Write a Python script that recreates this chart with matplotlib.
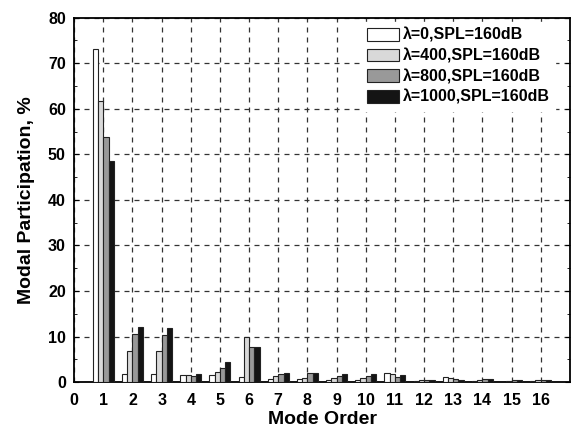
import numpy as np
import matplotlib.pyplot as plt

plt.rcParams['font.family'] = ['Liberation Sans', 'DejaVu Sans']
plt.rcParams['font.weight'] = 'bold'

modes = np.arange(1, 17)
labels = ['λ=0,SPL=160dB', 'λ=400,SPL=160dB', 'λ=800,SPL=160dB', 'λ=1000,SPL=160dB']
lam0 = [73.0, 1.9, 1.8, 1.6, 1.5, 1.1, 0.8, 0.6, 0.45, 0.45, 2.0, 0.2, 1.1, 0.2, 0.1, 0.3]
lam400 = [61.7, 6.9, 6.9, 1.6, 2.2, 10.0, 1.3, 1.0, 1.0, 1.0, 1.9, 0.45, 0.95, 0.4, 0.35, 0.4]
lam800 = [53.7, 10.6, 10.4, 1.45, 3.1, 7.7, 1.8, 2.0, 1.3, 1.4, 1.25, 0.45, 0.6, 0.65, 0.5, 0.5]
lam1000 = [48.5, 12.1, 11.8, 1.7, 4.4, 7.7, 2.0, 2.05, 1.7, 1.7, 1.5, 0.45, 0.45, 0.6, 0.5, 0.5]
colors = ['white', '#d9d9d9', '#999999', '#141414']

fig, ax = plt.subplots(figsize=(5.75, 4.28), dpi=100)
fig.subplots_adjust(left=0.129, right=0.991, top=0.959, bottom=0.107)

w = 0.18
for i, (vals, lab, c) in enumerate(zip([lam0, lam400, lam800, lam1000], labels, colors)):
    ax.bar(modes + (i - 1.5) * w, vals, width=w, color=c, edgecolor='#222222',
           linewidth=0.8, label=lab, zorder=3)

ax.set_xlim(0, 17)
ax.set_ylim(0, 80)
ax.set_xticks(range(0, 17))
ax.set_yticks(range(0, 81, 10))
ax.set_yticks(range(5, 80, 10), minor=True)
ax.grid(True, which='major', linestyle=(0, (4, 4)), color='#333333', linewidth=0.9, zorder=0)
ax.tick_params(axis='both', which='both', direction='in', labelsize=11.5)
ax.tick_params(axis='y', which='both', right=True, pad=6)
ax.tick_params(axis='x', length=0, pad=8)
for s in ax.spines.values():
    s.set_linewidth(1.3)

ax.set_xlabel('Mode Order', fontsize=14, fontweight='bold', labelpad=2)
ax.set_ylabel('Modal Participation, %', fontsize=14, fontweight='bold', labelpad=9)

leg = ax.legend(loc='upper right', bbox_to_anchor=(0.98, 1.0), fontsize=11.5, frameon=True,
                fancybox=False, edgecolor='white', framealpha=1, handlelength=2.0,
                handleheight=0.85, handletextpad=0.25, labelspacing=0.35,
                borderaxespad=0.3, borderpad=0.35)
leg.set_zorder(5)

plt.savefig('out.png', dpi=100)
